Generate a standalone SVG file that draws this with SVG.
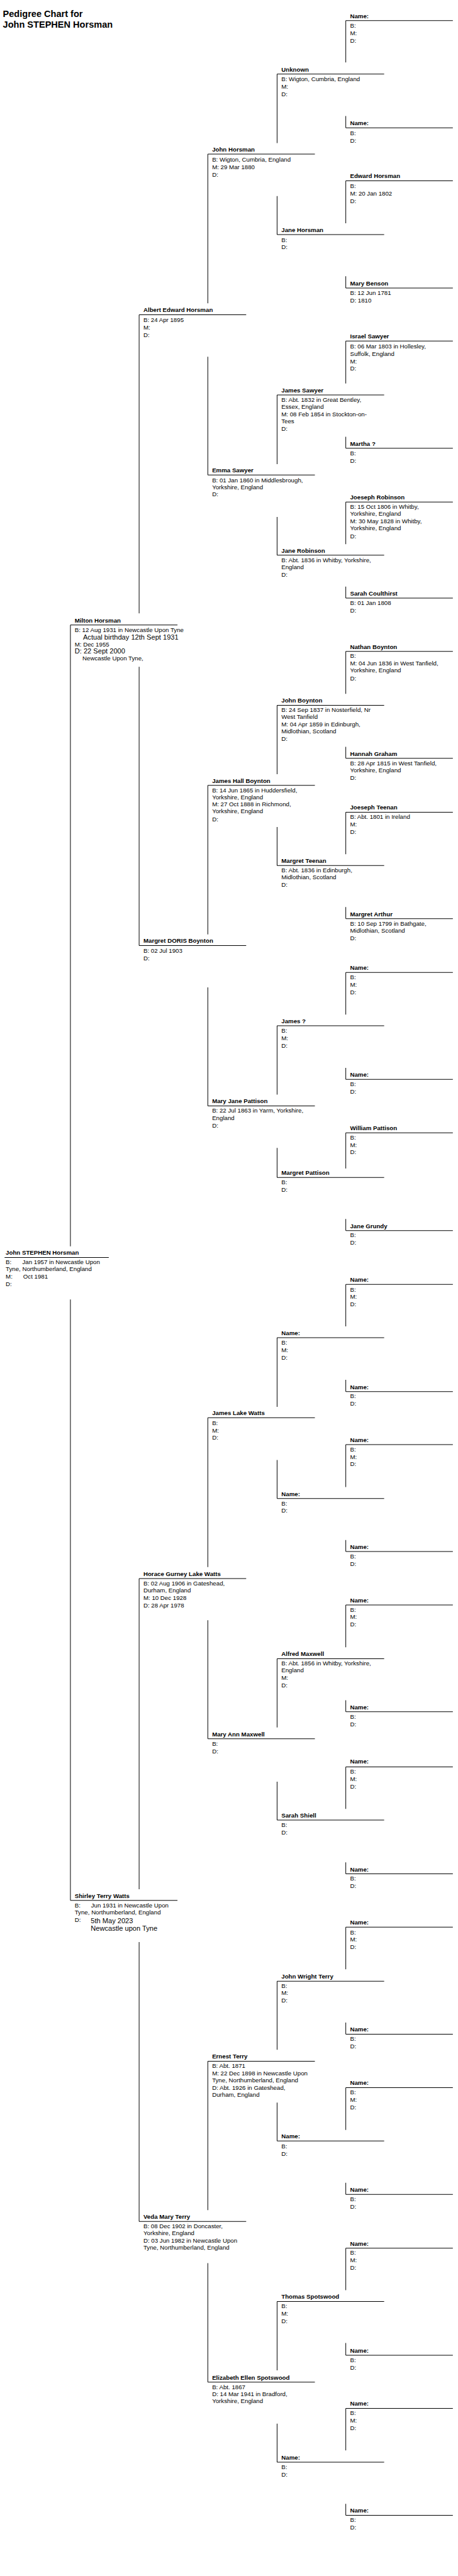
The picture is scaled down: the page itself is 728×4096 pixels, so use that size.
<svg xmlns="http://www.w3.org/2000/svg" width="728" height="4096" viewBox="0 0 728 4096">
<style>
.nm{font-family:"Liberation Sans",Arial,Helvetica,sans-serif;font-size:10.67px;font-weight:bold;fill:#000}
.tx{font-family:"Liberation Sans",Arial,Helvetica,sans-serif;font-size:10.67px;fill:#000}
.bg{font-family:"Liberation Sans",Arial,Helvetica,sans-serif;font-size:12.2px;fill:#000}
.ttl{font-family:"Liberation Sans",Arial,Helvetica,sans-serif;font-size:16px;font-weight:bold;fill:#000}
.ul,.cn{stroke:#000;stroke-width:1.1;fill:none}
</style>
<rect width="728" height="4096" fill="#fff"/>
<g transform="scale(0.91)">
<g id="title"><text class="ttl" x="5" y="30">Pedigree Chart for</text><text class="ttl" x="5" y="48.7">John STEPHEN Horsman</text></g>
<g id="connectors">
<path class="cn" d="M123 1092V2177.7M123 2270.7V3320.7
M243 550V1071.7M243 1165V1652.3M243 2758.3V3301M243 3393.3V3881.7
M363 269.3V530M363 623.3V830M363 1372.3V1632.7M363 1725.3V1932.3M363 2477.3V2738.3M363 2831V3038.3M363 3601.7V3861.7M363 3954.3V4162.3
M484 129.3V250M484 342.7V410M484 690V811M484 903.3V970M484 1232.3V1352.7M484 1445V1512.3M484 1792.3V1912.7M484 2005.7V2057.3M484 2337.3V2458.3M484 2551V2618.3M484 2898.3V3018.3M484 3113.3V3180.3M484 3461.7V3581.7M484 3674V3741M484 4021.3V4141.7M484 4235V4302.3
M604 36V109M604 202.7V223.3M604 316V390M604 482.7V503.3M604 596V670M604 763.3V783.3M604 877.3V950.7M604 1025V1045M604 1138.3V1212.3M604 1305V1325M604 1419.3V1492.7M604 1585V1605.3M604 1699.3V1772.7M604 1866V1886M604 1979.3V2041.7M604 2130V2150.3M604 2244.3V2317.7M604 2411V2431.7M604 2524.3V2598.3M604 2691V2711M604 2804.3V2878.3M604 2971V2991M604 3087.3V3160.7M604 3254V3274.3M604 3367.3V3441M604 3534V3554.3M604 3647.7V3721.7M604 3814V3834.3M604 3928.3V4001.7M604 4094V4115.3M604 4208.3V4281.7M604 4375V4395"/>
</g>

<g id="p-john-stephen-horsman" transform="translate(8,2197.3)"><line class="ul" x2="182"/><text class="nm" x="2" y="-4.5">John STEPHEN Horsman</text><text class="tx" x="2" y="12">B:</text><text class="tx" x="31" y="12">Jan 1957 in Newcastle Upon</text><text class="tx" x="2" y="24">Tyne, Northumberland, England</text><text class="tx" x="2" y="36.7">M:</text><text class="tx" x="32.4" y="36.7">Oct 1981</text><text class="tx" x="2" y="50.4">D:</text></g>

<g id="p-milton-horsman" transform="translate(123,1092)"><line class="ul" x2="187"/><text class="nm" x="7.5" y="-4.5">Milton Horsman</text><text class="tx" x="7.5" y="12.5">B: 12 Aug 1931 in Newcastle Upon Tyne</text><text class="bg" x="22" y="25.7">Actual birthday 12th Sept 1931</text><text class="tx" x="7.5" y="37.5">M: Dec 1955</text><text class="bg" x="7.5" y="50.3">D: 22 Sept 2000</text><text class="tx" x="21" y="62.3">Newcastle Upon Tyne,</text></g>
<g id="p-shirley-terry-watts" transform="translate(123,3320.7)"><line class="ul" x2="187"/><text class="nm" x="7.5" y="-4.5">Shirley Terry Watts</text><text class="tx" x="7.5" y="11.8">B:</text><text class="tx" x="36" y="11.8">Jun 1931 in Newcastle Upon</text><text class="tx" x="7.5" y="24.6">Tyne, Northumberland, England</text><text class="tx" x="7.5" y="38">D:</text><text class="bg" x="35.5" y="39.3">5th May 2023</text><text class="bg" x="35.5" y="53.3">Newcastle upon Tyne</text></g>

<g id="p-albert-edward-horsman" transform="translate(243,550)"><line class="ul" x2="187"/><text class="nm" x="7.5" y="-4.5">Albert Edward Horsman</text><text class="tx" x="7.5" y="12.5">B: 24 Apr 1895</text><text class="tx" x="7.5" y="25.5">M:</text><text class="tx" x="7.5" y="38.5">D:</text></g>
<g id="p-margret-doris-boynton" transform="translate(243,1652.3)"><line class="ul" x2="187"/><text class="nm" x="7.5" y="-4.5">Margret DORIS Boynton</text><text class="tx" x="7.5" y="12.5">B: 02 Jul 1903</text><text class="tx" x="7.5" y="25.5">D:</text></g>
<g id="p-horace-gurney-lake-watts" transform="translate(243,2758.3)"><line class="ul" x2="187"/><text class="nm" x="7.5" y="-4.5">Horace Gurney Lake Watts</text><text class="tx" x="7.5" y="12">B: 02 Aug 1906 in Gateshead,</text><text class="tx" x="7.5" y="24">Durham, England</text><text class="tx" x="7.5" y="37">M: 10 Dec 1928</text><text class="tx" x="7.5" y="50">D: 28 Apr 1978</text></g>
<g id="p-veda-mary-terry" transform="translate(243,3881.7)"><line class="ul" x2="187"/><text class="nm" x="7.5" y="-4.5">Veda Mary Terry</text><text class="tx" x="7.5" y="12">B: 08 Dec 1902 in Doncaster,</text><text class="tx" x="7.5" y="24">Yorkshire, England</text><text class="tx" x="7.5" y="37">D: 03 Jun 1982 in Newcastle Upon</text><text class="tx" x="7.5" y="49">Tyne, Northumberland, England</text></g>

<g id="p-john-horsman" transform="translate(363,269.3)"><line class="ul" x2="187"/><text class="nm" x="7.5" y="-4.5">John Horsman</text><text class="tx" x="7.5" y="12.7">B: Wigton, Cumbria, England</text><text class="tx" x="7.5" y="26">M: 29 Mar 1880</text><text class="tx" x="7.5" y="39">D:</text></g>
<g id="p-emma-sawyer" transform="translate(363,830)"><line class="ul" x2="187"/><text class="nm" x="7.5" y="-4.5">Emma Sawyer</text><text class="tx" x="7.5" y="12.5">B: 01 Jan 1860 in Middlesbrough,</text><text class="tx" x="7.5" y="24.5">Yorkshire, England</text><text class="tx" x="7.5" y="37.5">D:</text></g>
<g id="p-james-hall-boynton" transform="translate(363,1372.3)"><line class="ul" x2="187"/><text class="nm" x="7.5" y="-4.5">James Hall Boynton</text><text class="tx" x="7.5" y="12">B: 14 Jun 1865 in Huddersfield,</text><text class="tx" x="7.5" y="24">Yorkshire, England</text><text class="tx" x="7.5" y="37">M: 27 Oct 1888 in Richmond,</text><text class="tx" x="7.5" y="49">Yorkshire, England</text><text class="tx" x="7.5" y="62.5">D:</text></g>
<g id="p-mary-jane-pattison" transform="translate(363,1932.3)"><line class="ul" x2="187"/><text class="nm" x="7.5" y="-4.5">Mary Jane Pattison</text><text class="tx" x="7.5" y="12.2">B: 22 Jul 1863 in Yarm, Yorkshire,</text><text class="tx" x="7.5" y="24.5">England</text><text class="tx" x="7.5" y="37.5">D:</text></g>
<g id="p-james-lake-watts" transform="translate(363,2477.3)"><line class="ul" x2="187"/><text class="nm" x="7.5" y="-4.5">James Lake Watts</text><text class="tx" x="7.5" y="12.5">B:</text><text class="tx" x="7.5" y="25.5">M:</text><text class="tx" x="7.5" y="38.5">D:</text></g>
<g id="p-mary-ann-maxwell" transform="translate(363,3038.3)"><line class="ul" x2="187"/><text class="nm" x="7.5" y="-4.5">Mary Ann Maxwell</text><text class="tx" x="7.5" y="12.5">B:</text><text class="tx" x="7.5" y="25.5">D:</text></g>
<g id="p-ernest-terry" transform="translate(363,3601.7)"><line class="ul" x2="187"/><text class="nm" x="7.5" y="-4.5">Ernest Terry</text><text class="tx" x="7.5" y="12">B: Abt. 1871</text><text class="tx" x="7.5" y="25">M: 22 Dec 1898 in Newcastle Upon</text><text class="tx" x="7.5" y="37">Tyne, Northumberland, England</text><text class="tx" x="7.5" y="50">D: Abt. 1926 in Gateshead,</text><text class="tx" x="7.5" y="62">Durham, England</text></g>
<g id="p-elizabeth-ellen-spotswood" transform="translate(363,4162.3)"><line class="ul" x2="187"/><text class="nm" x="7.5" y="-4.5">Elizabeth Ellen Spotswood</text><text class="tx" x="7.5" y="12">B: Abt. 1867</text><text class="tx" x="7.5" y="25">D: 14 Mar 1941 in Bradford,</text><text class="tx" x="7.5" y="37">Yorkshire, England</text></g>

<g id="p-unknown" transform="translate(484,129.3)"><line class="ul" x2="187"/><text class="nm" x="7.5" y="-4.5">Unknown</text><text class="tx" x="7.5" y="13">B: Wigton, Cumbria, England</text><text class="tx" x="7.5" y="26">M:</text><text class="tx" x="7.5" y="39">D:</text></g>
<g id="p-jane-horsman" transform="translate(484,410)"><line class="ul" x2="187"/><text class="nm" x="7.5" y="-4.5">Jane Horsman</text><text class="tx" x="7.5" y="12.7">B:</text><text class="tx" x="7.5" y="25.7">D:</text></g>
<g id="p-james-sawyer" transform="translate(484,690)"><line class="ul" x2="187"/><text class="nm" x="7.5" y="-4.5">James Sawyer</text><text class="tx" x="7.5" y="12.5">B: Abt. 1832 in Great Bentley,</text><text class="tx" x="7.5" y="24.5">Essex, England</text><text class="tx" x="7.5" y="37.5">M: 08 Feb 1854 in Stockton-on-</text><text class="tx" x="7.5" y="49.5">Tees</text><text class="tx" x="7.5" y="62.5">D:</text></g>
<g id="p-jane-robinson" transform="translate(484,970)"><line class="ul" x2="187"/><text class="nm" x="7.5" y="-4.5">Jane Robinson</text><text class="tx" x="7.5" y="12.7">B: Abt. 1836 in Whitby, Yorkshire,</text><text class="tx" x="7.5" y="24.7">England</text><text class="tx" x="7.5" y="38">D:</text></g>
<g id="p-john-boynton" transform="translate(484,1232.3)"><line class="ul" x2="187"/><text class="nm" x="7.5" y="-4.5">John Boynton</text><text class="tx" x="7.5" y="12">B: 24 Sep 1837 in Nosterfield, Nr</text><text class="tx" x="7.5" y="24">West Tanfield</text><text class="tx" x="7.5" y="37">M: 04 Apr 1859 in Edinburgh,</text><text class="tx" x="7.5" y="49">Midlothian, Scotland</text><text class="tx" x="7.5" y="62.5">D:</text></g>
<g id="p-margret-teenan" transform="translate(484,1512.3)"><line class="ul" x2="187"/><text class="nm" x="7.5" y="-4.5">Margret Teenan</text><text class="tx" x="7.5" y="12">B: Abt. 1836 in Edinburgh,</text><text class="tx" x="7.5" y="24">Midlothian, Scotland</text><text class="tx" x="7.5" y="37.5">D:</text></g>
<g id="p-james-q" transform="translate(484,1792.3)"><line class="ul" x2="187"/><text class="nm" x="7.5" y="-4.5">James ?</text><text class="tx" x="7.5" y="12">B:</text><text class="tx" x="7.5" y="25">M:</text><text class="tx" x="7.5" y="38">D:</text></g>
<g id="p-margret-pattison" transform="translate(484,2057.3)"><line class="ul" x2="187"/><text class="nm" x="7.5" y="-4.5">Margret Pattison</text><text class="tx" x="7.5" y="12">B:</text><text class="tx" x="7.5" y="25">D:</text></g>
<g id="p-g4-09" transform="translate(484,2337.3)"><line class="ul" x2="187"/><text class="nm" x="7.5" y="-4.5">Name:</text><text class="tx" x="7.5" y="12">B:</text><text class="tx" x="7.5" y="25">M:</text><text class="tx" x="7.5" y="38">D:</text></g>
<g id="p-g4-10" transform="translate(484,2618.3)"><line class="ul" x2="187"/><text class="nm" x="7.5" y="-4.5">Name:</text><text class="tx" x="7.5" y="12">B:</text><text class="tx" x="7.5" y="25">D:</text></g>
<g id="p-alfred-maxwell" transform="translate(484,2898.3)"><line class="ul" x2="187"/><text class="nm" x="7.5" y="-4.5">Alfred Maxwell</text><text class="tx" x="7.5" y="12">B: Abt. 1856 in Whitby, Yorkshire,</text><text class="tx" x="7.5" y="24">England</text><text class="tx" x="7.5" y="37">M:</text><text class="tx" x="7.5" y="50">D:</text></g>
<g id="p-sarah-shiell" transform="translate(484,3180.3)"><line class="ul" x2="187"/><text class="nm" x="7.5" y="-4.5">Sarah Shiell</text><text class="tx" x="7.5" y="12">B:</text><text class="tx" x="7.5" y="25">D:</text></g>
<g id="p-john-wright-terry" transform="translate(484,3461.7)"><line class="ul" x2="187"/><text class="nm" x="7.5" y="-4.5">John Wright Terry</text><text class="tx" x="7.5" y="11.5">B:</text><text class="tx" x="7.5" y="24.5">M:</text><text class="tx" x="7.5" y="37.5">D:</text></g>
<g id="p-g4-14" transform="translate(484,3741)"><line class="ul" x2="187"/><text class="nm" x="7.5" y="-4.5">Name:</text><text class="tx" x="7.5" y="12.5">B:</text><text class="tx" x="7.5" y="25.5">D:</text></g>
<g id="p-thomas-spotswood" transform="translate(484,4021.3)"><line class="ul" x2="187"/><text class="nm" x="7.5" y="-4.5">Thomas Spotswood</text><text class="tx" x="7.5" y="12">B:</text><text class="tx" x="7.5" y="25">M:</text><text class="tx" x="7.5" y="38">D:</text></g>
<g id="p-g4-16" transform="translate(484,4302.3)"><line class="ul" x2="187"/><text class="nm" x="7.5" y="-4.5">Name:</text><text class="tx" x="7.5" y="12">B:</text><text class="tx" x="7.5" y="25">D:</text></g>

<g id="p-g5-01" transform="translate(604,36)"><line class="ul" x2="187"/><text class="nm" x="7.5" y="-4.5">Name:</text><text class="tx" x="7.5" y="12.7">B:</text><text class="tx" x="7.5" y="25.7">M:</text><text class="tx" x="7.5" y="38.7">D:</text></g>
<g id="p-g5-02" transform="translate(604,223.3)"><line class="ul" x2="187"/><text class="nm" x="7.5" y="-4.5">Name:</text><text class="tx" x="7.5" y="12.7">B:</text><text class="tx" x="7.5" y="25.7">D:</text></g>
<g id="p-edward-horsman" transform="translate(604,316)"><line class="ul" x2="187"/><text class="nm" x="7.5" y="-4.5">Edward Horsman</text><text class="tx" x="7.5" y="12.7">B:</text><text class="tx" x="7.5" y="26">M: 20 Jan 1802</text><text class="tx" x="7.5" y="38.7">D:</text></g>
<g id="p-mary-benson" transform="translate(604,503.3)"><line class="ul" x2="187"/><text class="nm" x="7.5" y="-4.5">Mary Benson</text><text class="tx" x="7.5" y="12.4">B: 12 Jun 1781</text><text class="tx" x="7.5" y="25.4">D: 1810</text></g>
<g id="p-israel-sawyer" transform="translate(604,596)"><line class="ul" x2="187"/><text class="nm" x="7.5" y="-4.5">Israel Sawyer</text><text class="tx" x="7.5" y="12.3">B: 06 Mar 1803 in Hollesley,</text><text class="tx" x="7.5" y="25.7">Suffolk, England</text><text class="tx" x="7.5" y="38.7">M:</text><text class="tx" x="7.5" y="51.7">D:</text></g>
<g id="p-martha-q" transform="translate(604,783.3)"><line class="ul" x2="187"/><text class="nm" x="7.5" y="-4.5">Martha ?</text><text class="tx" x="7.5" y="12.4">B:</text><text class="tx" x="7.5" y="25.4">D:</text></g>
<g id="p-joeseph-robinson" transform="translate(604,877.3)"><line class="ul" x2="187"/><text class="nm" x="7.5" y="-4.5">Joeseph Robinson</text><text class="tx" x="7.5" y="12">B: 15 Oct 1806 in Whitby,</text><text class="tx" x="7.5" y="24">Yorkshire, England</text><text class="tx" x="7.5" y="37.4">M: 30 May 1828 in Whitby,</text><text class="tx" x="7.5" y="49.4">Yorkshire, England</text><text class="tx" x="7.5" y="63.4">D:</text></g>
<g id="p-sarah-coulthirst" transform="translate(604,1045)"><line class="ul" x2="187"/><text class="nm" x="7.5" y="-4.5">Sarah Coulthirst</text><text class="tx" x="7.5" y="12.3">B: 01 Jan 1808</text><text class="tx" x="7.5" y="25.3">D:</text></g>
<g id="p-nathan-boynton" transform="translate(604,1138.3)"><line class="ul" x2="187"/><text class="nm" x="7.5" y="-4.5">Nathan Boynton</text><text class="tx" x="7.5" y="11.7">B:</text><text class="tx" x="7.5" y="24.4">M: 04 Jun 1836 in West Tanfield,</text><text class="tx" x="7.5" y="36.7">Yorkshire, England</text><text class="tx" x="7.5" y="50.7">D:</text></g>
<g id="p-hannah-graham" transform="translate(604,1325)"><line class="ul" x2="187"/><text class="nm" x="7.5" y="-4.5">Hannah Graham</text><text class="tx" x="7.5" y="12">B: 28 Apr 1815 in West Tanfield,</text><text class="tx" x="7.5" y="24">Yorkshire, England</text><text class="tx" x="7.5" y="38">D:</text></g>
<g id="p-joeseph-teenan" transform="translate(604,1419.3)"><line class="ul" x2="187"/><text class="nm" x="7.5" y="-4.5">Joeseph Teenan</text><text class="tx" x="7.5" y="11.7">B: Abt. 1801 in Ireland</text><text class="tx" x="7.5" y="24.7">M:</text><text class="tx" x="7.5" y="37.7">D:</text></g>
<g id="p-margret-arthur" transform="translate(604,1605.3)"><line class="ul" x2="187"/><text class="nm" x="7.5" y="-4.5">Margret Arthur</text><text class="tx" x="7.5" y="12">B: 10 Sep 1799 in Bathgate,</text><text class="tx" x="7.5" y="24.7">Midlothian, Scotland</text><text class="tx" x="7.5" y="37.7">D:</text></g>
<g id="p-g5-13" transform="translate(604,1699.3)"><line class="ul" x2="187"/><text class="nm" x="7.5" y="-4.5">Name:</text><text class="tx" x="7.5" y="11.7">B:</text><text class="tx" x="7.5" y="24.7">M:</text><text class="tx" x="7.5" y="37.7">D:</text></g>
<g id="p-g5-14" transform="translate(604,1886)"><line class="ul" x2="187"/><text class="nm" x="7.5" y="-4.5">Name:</text><text class="tx" x="7.5" y="12.3">B:</text><text class="tx" x="7.5" y="25">D:</text></g>
<g id="p-william-pattison" transform="translate(604,1979.3)"><line class="ul" x2="187"/><text class="nm" x="7.5" y="-4.5">William Pattison</text><text class="tx" x="7.5" y="11.7">B:</text><text class="tx" x="7.5" y="24.7">M:</text><text class="tx" x="7.5" y="37.7">D:</text></g>
<g id="p-jane-grundy" transform="translate(604,2150.3)"><line class="ul" x2="187"/><text class="nm" x="7.5" y="-4.5">Jane Grundy</text><text class="tx" x="7.5" y="11.7">B:</text><text class="tx" x="7.5" y="24.7">D:</text></g>
<g id="p-g5-17" transform="translate(604,2244.3)"><line class="ul" x2="187"/><text class="nm" x="7.5" y="-4.5">Name:</text><text class="tx" x="7.5" y="12.4">B:</text><text class="tx" x="7.5" y="25">M:</text><text class="tx" x="7.5" y="38">D:</text></g>
<g id="p-g5-18" transform="translate(604,2431.7)"><line class="ul" x2="187"/><text class="nm" x="7.5" y="-4.5">Name:</text><text class="tx" x="7.5" y="11.6">B:</text><text class="tx" x="7.5" y="24.3">D:</text></g>
<g id="p-g5-19" transform="translate(604,2524.3)"><line class="ul" x2="187"/><text class="nm" x="7.5" y="-4.5">Name:</text><text class="tx" x="7.5" y="11.7">B:</text><text class="tx" x="7.5" y="24.7">M:</text><text class="tx" x="7.5" y="37.7">D:</text></g>
<g id="p-g5-20" transform="translate(604,2711)"><line class="ul" x2="187"/><text class="nm" x="7.5" y="-4.5">Name:</text><text class="tx" x="7.5" y="12.3">B:</text><text class="tx" x="7.5" y="25">D:</text></g>
<g id="p-g5-21" transform="translate(604,2804.3)"><line class="ul" x2="187"/><text class="nm" x="7.5" y="-4.5">Name:</text><text class="tx" x="7.5" y="11.7">B:</text><text class="tx" x="7.5" y="24.7">M:</text><text class="tx" x="7.5" y="37.7">D:</text></g>
<g id="p-g5-22" transform="translate(604,2991)"><line class="ul" x2="187"/><text class="nm" x="7.5" y="-4.5">Name:</text><text class="tx" x="7.5" y="12">B:</text><text class="tx" x="7.5" y="25">D:</text></g>
<g id="p-g5-23" transform="translate(604,3087.3)"><line class="ul" x2="187"/><text class="nm" x="7.5" y="-5.5">Name:</text><text class="tx" x="7.5" y="11.7">B:</text><text class="tx" x="7.5" y="24.7">M:</text><text class="tx" x="7.5" y="37.7">D:</text></g>
<g id="p-g5-24" transform="translate(604,3274.3)"><line class="ul" x2="187"/><text class="nm" x="7.5" y="-4.5">Name:</text><text class="tx" x="7.5" y="11.7">B:</text><text class="tx" x="7.5" y="24.7">D:</text></g>
<g id="p-g5-25" transform="translate(604,3367.3)"><line class="ul" x2="187"/><text class="nm" x="7.5" y="-4.5">Name:</text><text class="tx" x="7.5" y="12.5">B:</text><text class="tx" x="7.5" y="25">M:</text><text class="tx" x="7.5" y="38.4">D:</text></g>
<g id="p-g5-26" transform="translate(604,3554.3)"><line class="ul" x2="187"/><text class="nm" x="7.5" y="-4.5">Name:</text><text class="tx" x="7.5" y="12">B:</text><text class="tx" x="7.5" y="25">D:</text></g>
<g id="p-g5-27" transform="translate(604,3647.7)"><line class="ul" x2="187"/><text class="nm" x="7.5" y="-4.5">Name:</text><text class="tx" x="7.5" y="11.6">B:</text><text class="tx" x="7.5" y="24.6">M:</text><text class="tx" x="7.5" y="37.6">D:</text></g>
<g id="p-g5-28" transform="translate(604,3834.3)"><line class="ul" x2="187"/><text class="nm" x="7.5" y="-4.5">Name:</text><text class="tx" x="7.5" y="11.7">B:</text><text class="tx" x="7.5" y="24.7">D:</text></g>
<g id="p-g5-29" transform="translate(604,3928.3)"><line class="ul" x2="187"/><text class="nm" x="7.5" y="-4.5">Name:</text><text class="tx" x="7.5" y="11.7">B:</text><text class="tx" x="7.5" y="24.7">M:</text><text class="tx" x="7.5" y="37.7">D:</text></g>
<g id="p-g5-30" transform="translate(604,4115.3)"><line class="ul" x2="187"/><text class="nm" x="7.5" y="-4.5">Name:</text><text class="tx" x="7.5" y="12">B:</text><text class="tx" x="7.5" y="25">D:</text></g>
<g id="p-g5-31" transform="translate(604,4208.3)"><line class="ul" x2="187"/><text class="nm" x="7.5" y="-4.5">Name:</text><text class="tx" x="7.5" y="11.7">B:</text><text class="tx" x="7.5" y="24.7">M:</text><text class="tx" x="7.5" y="37.7">D:</text></g>
<g id="p-g5-32" transform="translate(604,4395)"><line class="ul" x2="187"/><text class="nm" x="7.5" y="-4.5">Name:</text><text class="tx" x="7.5" y="12">B:</text><text class="tx" x="7.5" y="25">D:</text></g>
</g>
</svg>
